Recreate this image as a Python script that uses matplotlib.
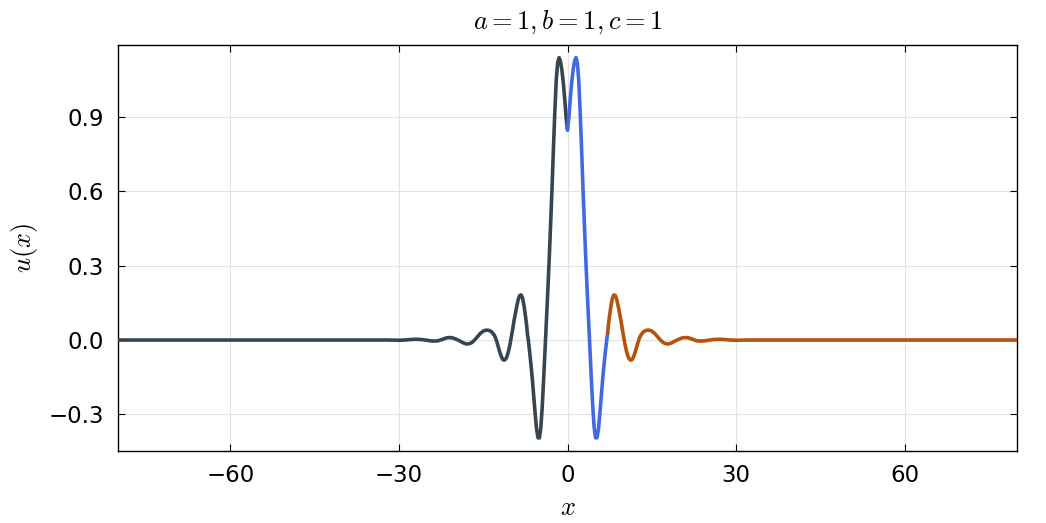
import matplotlib
matplotlib.use("Agg")
import matplotlib.pyplot as plt
import numpy as np

# right-half readings (x >= 0); the curve is read symmetrically on the left
x_right = [0.0, 0.25, 0.5, 0.75, 1.0, 1.25, 1.5, 1.75, 2.0, 2.25, 2.5, 2.75,
           3.0, 3.25, 3.5, 3.75, 4.0, 4.25, 4.5, 4.75, 5.0, 5.25, 5.5, 5.75,
           6.0, 6.25, 6.5, 6.75, 7.0, 7.15, 7.25, 7.5, 7.75, 8.0, 8.25, 8.5,
           8.75, 9.0, 9.25, 9.5, 9.75, 10.0, 10.25, 10.5, 10.75, 11.0, 11.25,
           11.5, 11.75, 12.0, 12.25, 12.5, 12.75, 13.0, 13.5, 14.0, 14.5, 15.0,
           15.5, 16.0, 16.5, 17.0, 17.5, 18.0, 18.5, 19.0, 19.5, 20.0, 20.5,
           21.0, 21.5, 22.0, 22.5, 23.0, 23.5, 24.0, 24.5, 25.0, 26.0, 27.0,
           28.0, 29.0, 30.0, 32.0, 40.0, 60.0, 80.0]
u_right = [0.848, 0.90, 0.975, 1.04, 1.09, 1.125, 1.14, 1.12, 1.05, 0.925, 0.775, 0.615,
           0.47, 0.33, 0.20, 0.08, -0.04, -0.16, -0.27, -0.355, -0.395, -0.395, -0.36, -0.30,
           -0.23, -0.16, -0.10, -0.045, 0.005, 0.027, 0.055, 0.10, 0.14, 0.17, 0.182, 0.18,
           0.165, 0.14, 0.11, 0.08, 0.045, 0.012, -0.02, -0.045, -0.065, -0.077, -0.081,
           -0.079, -0.068, -0.052, -0.033, -0.013, 0.005, 0.018, 0.033, 0.039, 0.040, 0.036,
           0.027, 0.014, 0.001, -0.010, -0.015, -0.016, -0.012, -0.006, 0.000, 0.005, 0.009,
           0.010, 0.009, 0.005, 0.001, -0.003, -0.004, -0.004, -0.003, -0.001, 0.002, 0.003,
           0.002, 0.000, -0.001, 0.000, 0.000, 0.000, 0.000]

x_left = [-v for v in x_right[::-1]]
u_left = u_right[::-1]

seg_bounds = [-80.0, 0.0, 7.15, 80.0]
seg_colors = ["#36454f", "#4169e1", "#b5520b"]

x_ticks = [-60, -30, 0, 30, 60]
y_ticks = [-0.3, 0.0, 0.3, 0.6, 0.9]

x_all = np.array(x_left[:-1] + x_right)
u_all = np.array(u_left[:-1] + u_right)

plt.rcParams['mathtext.fontset'] = 'cm'
plt.rcParams['font.family'] = ['DejaVu Sans']

fig = plt.figure(figsize=(10.46, 5.23), dpi=100)
ax = fig.add_axes([118/1046, 1 - 451/523, (1017-118)/1046, (451-45)/523])

for i, col in enumerate(seg_colors):
    lo, hi = seg_bounds[i], seg_bounds[i+1]
    m = (x_all >= lo) & (x_all <= hi)
    ax.plot(x_all[m], u_all[m], color=col, lw=2.6, solid_capstyle='round', zorder=3)

ax.set_xlim(-80, 80)
ax.set_ylim(-0.448, 1.191)
ax.set_xticks(x_ticks)
ax.set_yticks(y_ticks)
ax.set_yticklabels([f"{v:.1f}".replace("-", "\u2212") for v in y_ticks])
ax.grid(True, color='#e3e3e3', lw=0.8, zorder=0)
ax.tick_params(direction='in', length=5, width=0.8, top=True, right=True,
               labelsize=16.5, colors='black')
ax.tick_params(axis='x', pad=9)
ax.tick_params(axis='y', pad=10)
for s in ax.spines.values():
    s.set_linewidth(1.0)
    s.set_color('black')

ax.set_title(r"$a = 1, b = 1, c = 1$", fontsize=19, pad=12)
ax.set_xlabel(r"$x$", fontsize=19, labelpad=6)
ax.set_ylabel(r"$u(x)$", fontsize=19, labelpad=6)

fig.savefig("out.png", dpi=100)
